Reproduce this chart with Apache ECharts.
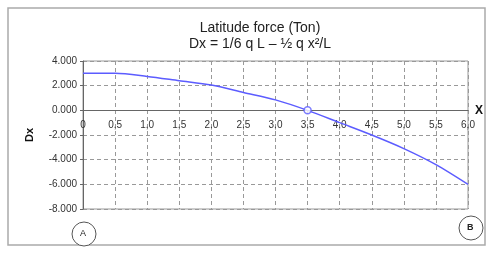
<!DOCTYPE html>
<html>
<head>
<meta charset="utf-8">
<script src="https://cdn.jsdelivr.net/npm/echarts@6/dist/echarts.min.js"></script>
<style>
  html, body { margin: 0; padding: 0; background: #fff; }
  #chart { width: 490px; height: 254px; }
</style>
</head>
<body>
<div id="chart"></div>
<script>
// x positions (m) and Dx values (Ton)
const xValues = [0, 0.5, 1.0, 1.5, 2.0, 2.5, 3.0, 3.5, 4.0, 4.5, 5.0, 5.5, 6.0]
const dxValues = [3.0, 3.0, 2.75, 2.4, 2.05, 1.45, 0.85, 0, -1.0, -2.0, -3.1, -4.4, -6.0]
const zeroPoint = [3.5, 0]

const chart = echarts.init(document.getElementById('chart'))

// grid is fixed in px, so the x axis is shifted up onto the zero line
const gridTop = 61
const gridBottom = 45
const plotHeight = 254 - gridTop - gridBottom
const zeroShift = plotHeight * 8 / 12

const options = {
  animation: false,
  title: {
    text: 'Latitude force (Ton)\nDx = 1/6 q L \u2013 \u00bd q x\u00b2/L',
    left: 255,
    top: 15,
    textAlign: 'center',
    textStyle: {
      fontFamily: 'Liberation Sans',
      fontSize: 14,
      fontWeight: 'normal',
      color: '#222',
      lineHeight: 16
    }
  },
  grid: {
    left: 83,
    right: 22,
    top: gridTop,
    bottom: gridBottom,
    show: true,
    borderColor: '#999',
    borderWidth: 1
  },
  xAxis: {
    type: 'value',
    min: 0,
    max: 6,
    interval: 0.5,
    offset: -zeroShift,
    name: 'X',
    nameLocation: 'end',
    nameGap: 7,
    nameTextStyle: { fontFamily: 'Liberation Sans', fontSize: 12, fontWeight: 'bold', color: '#111' },
    axisLine: { onZero: false, lineStyle: { color: '#666', width: 1 } },
    axisTick: { show: false },
    axisLabel: {
      margin: 10,
      fontFamily: 'Liberation Sans',
      fontSize: 10,
      color: '#333',
      formatter(v) {
        return v === 0 ? '0' : v.toFixed(1).replace('.', ',')
      }
    },
    splitLine: { show: true, lineStyle: { color: '#999', type: [4, 3] } }
  },
  yAxis: {
    type: 'value',
    min: -8,
    max: 4,
    interval: 2,
    name: 'Dx',
    nameLocation: 'middle',
    nameGap: 48,
    nameRotate: 90,
    nameTextStyle: { fontFamily: 'Liberation Sans', fontSize: 11, fontWeight: 'bold', color: '#111' },
    axisLine: { show: true, lineStyle: { color: '#666', width: 1 } },
    axisTick: { show: true, length: 3, lineStyle: { color: '#666' } },
    axisLabel: {
      margin: 6,
      fontFamily: 'Liberation Sans',
      fontSize: 10,
      color: '#333',
      formatter(v) {
        return v.toFixed(3)
      }
    },
    splitLine: { show: true, lineStyle: { color: '#999', type: [4, 3] } }
  },
  series: [{
    type: 'line',
    data: xValues.map((x, i) => [x, dxValues[i]]),
    smooth: 0.3,
    symbol: 'none',
    lineStyle: { color: '#5c5cff', width: 1.5 },
    z: 3
  }, {
    type: 'scatter',
    data: [zeroPoint],
    symbol: 'circle',
    symbolSize: 7,
    itemStyle: { color: '#fff', borderColor: '#5c5cff', borderWidth: 1.5 },
    z: 4
  }],
  graphic: [{
    type: 'rect',
    shape: { x: 8, y: 8, width: 477, height: 237 },
    style: { fill: 'none', stroke: '#aaa', lineWidth: 1.5 },
    z: -1
  }, {
    type: 'circle',
    shape: { cx: 84, cy: 234, r: 12 },
    style: { fill: '#fff', stroke: '#555', lineWidth: 1 }
  }, {
    type: 'text',
    left: 80,
    top: 229,
    style: { text: 'A', fontFamily: 'Liberation Sans', fontSize: 9, fill: '#222' }
  }, {
    type: 'circle',
    shape: { cx: 471, cy: 228, r: 12 },
    style: { fill: '#fff', stroke: '#555', lineWidth: 1 }
  }, {
    type: 'text',
    left: 467,
    top: 223,
    style: { text: 'B', fontFamily: 'Liberation Sans', fontSize: 9, fontWeight: 'bold', fill: '#222' }
  }]
}

chart.setOption(options)
window.addEventListener('resize', chart.resize)
</script>
</body>
</html>
